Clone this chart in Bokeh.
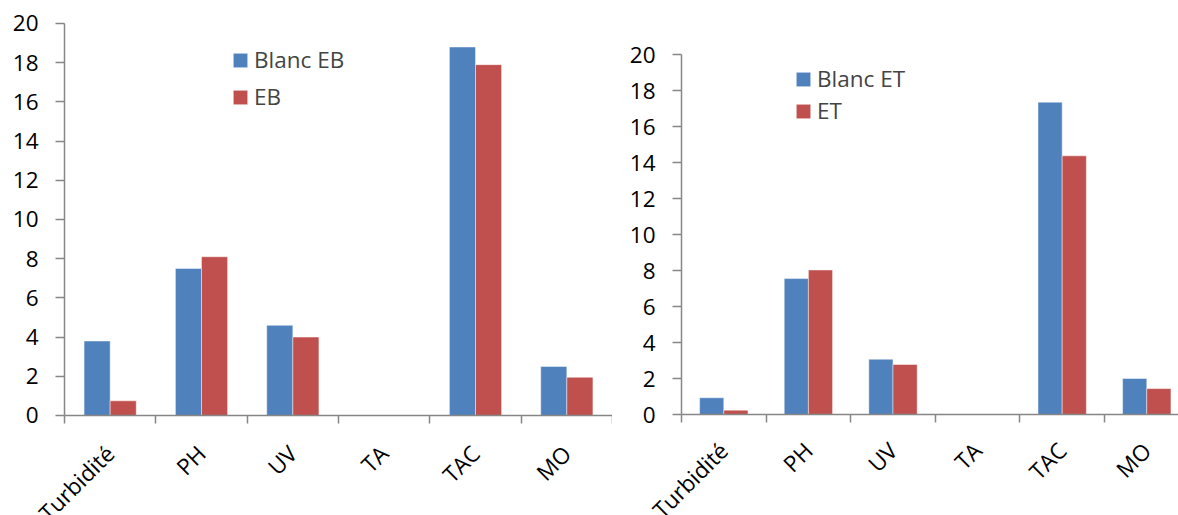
import math

from bokeh.embed import file_html
from bokeh.layouts import row
from bokeh.models import (ColumnDataSource, FixedTicker, Legend, LegendItem,
                          LinearAxis, Range1d)
from bokeh.plotting import figure
from bokeh.resources import INLINE
from bokeh.transform import dodge

# Measured parameters for each sample
categories = ["Turbidité", "PH", "UV", "TA", "TAC", "MO"]
blanc_eb = [3.8, 7.5, 4.6, 0, 18.8, 2.5]
eb = [0.75, 8.1, 4.0, 0, 17.9, 1.95]
blanc_et = [0.93, 7.55, 3.07, 0, 17.35, 2.0]
et = [0.24, 8.03, 2.78, 0, 14.37, 1.44]
y_ticks = [0, 2, 4, 6, 8, 10, 12, 14, 16, 18, 20]

BLUE = "#4F81BD"
RED = "#C0504D"
AXIS_GREY = "#868686"
FONT = "Open Sans"
FONT_SIZE = "22.5px"
BAR_W = 1 / 3.5  # two bars per category, 150 % gap


def bar_panel(first, second, names, width, x_span, y_span, legend_xy,
              legend_spacing, label_standoff):
    # the frame fills the whole canvas; both axes are pinned at zero so the
    # tick labels and the slanted category names sit inside it
    p = figure(width=width, height=515, output_backend="svg",
               toolbar_location=None,
               x_range=Range1d(*x_span), y_range=Range1d(*y_span),
               x_axis_location=None, y_axis_location=None,
               min_border=0)
    p.outline_line_color = None
    p.xgrid.visible = False
    p.ygrid.visible = False
    p.background_fill_color = "white"
    p.border_fill_color = "white"

    n = len(categories)
    centers = [i + 0.5 for i in range(n)]
    src = ColumnDataSource(dict(x=centers, a=first, b=second))

    r1 = p.vbar(x=dodge("x", -BAR_W / 2, range=p.x_range), top="a",
                width=BAR_W, source=src, fill_color=BLUE,
                line_color="white", line_alpha=0.45, line_width=1)
    r2 = p.vbar(x=dodge("x", BAR_W / 2, range=p.x_range), top="b",
                width=BAR_W, source=src, fill_color=RED,
                line_color="white", line_alpha=0.45, line_width=1)

    yaxis = LinearAxis(fixed_location=0, bounds=(0, 20),
                       ticker=FixedTicker(ticks=y_ticks),
                       major_tick_out=9, major_tick_in=0,
                       minor_tick_out=0, minor_tick_in=0,
                       major_label_standoff=17,
                       axis_line_color=AXIS_GREY, axis_line_width=1.5,
                       major_tick_line_color=AXIS_GREY,
                       major_tick_line_width=1.5,
                       major_label_text_font=FONT,
                       major_label_text_font_size=FONT_SIZE,
                       major_label_text_color="black")
    p.add_layout(yaxis, "left")

    # category axis: names under the group centres, tick marks on the
    # group boundaries
    xaxis = LinearAxis(fixed_location=0, bounds=(0, n),
                       ticker=FixedTicker(ticks=centers,
                                          minor_ticks=list(range(n + 1))),
                       major_label_overrides=dict(zip(centers, categories)),
                       major_label_orientation=math.pi / 4,
                       major_tick_out=0, major_tick_in=0,
                       minor_tick_out=8, minor_tick_in=0,
                       major_label_standoff=label_standoff,
                       axis_line_color=AXIS_GREY, axis_line_width=1.5,
                       minor_tick_line_color=AXIS_GREY,
                       minor_tick_line_width=1.5,
                       major_label_text_font=FONT,
                       major_label_text_font_size=FONT_SIZE,
                       major_label_text_color="black")
    p.add_layout(xaxis, "below")

    legend = Legend(items=[LegendItem(label=names[0], renderers=[r1]),
                           LegendItem(label=names[1], renderers=[r2])],
                    location=legend_xy, orientation="vertical",
                    padding=0, margin=0, spacing=legend_spacing,
                    glyph_width=18, glyph_height=18, label_standoff=5,
                    label_text_font=FONT, label_text_font_size=FONT_SIZE,
                    border_line_color=None, background_fill_alpha=0)
    p.add_layout(legend)
    return p


p_left = bar_panel(blanc_eb, eb, ["Blanc EB", "EB"], 612,
                   (-0.7007, 6), (-5.102, 21.173), (231, 403), 6, 26)
p_right = bar_panel(blanc_et, et, ["Blanc ET", "ET"], 566,
                    (-0.8156, 5.875), (-5.611, 23.0), (182, 389), 1, 24)

page = row(p_left, p_right)
open("out.html", "w").write(file_html(page, INLINE))
